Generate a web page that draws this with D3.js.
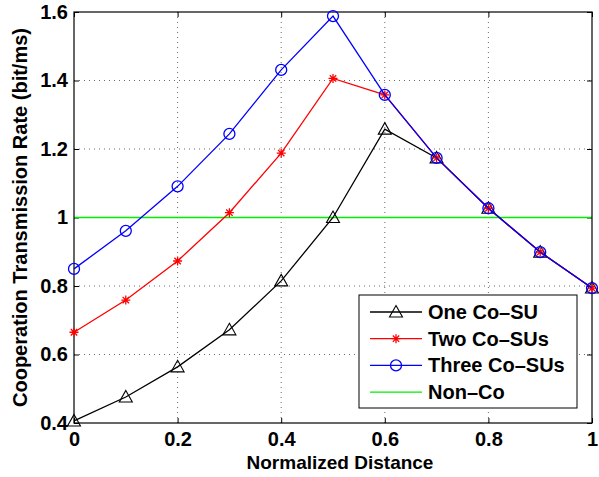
<!DOCTYPE html>
<html><head><meta charset="utf-8">
<script src="https://cdn.jsdelivr.net/npm/d3@7"></script>
<style>body{margin:0;background:#fff}svg{display:block}text{font-family:Arial,"Liberation Sans",Helvetica,sans-serif;font-weight:bold}</style>
</head><body>
<script>
const xVals = [0,0.1,0.2,0.3,0.4,0.5,0.6,0.7,0.8,0.9,1.0];
const oneCoSU = [0.406,0.476,0.564,0.672,0.815,1.0,1.258,1.174,1.027,0.899,0.794];
const twoCoSUs = [0.665,0.759,0.873,1.014,1.188,1.406,1.358,1.174,1.027,0.899,0.794];
const threeCoSUs = [0.850,0.961,1.091,1.244,1.431,1.588,1.358,1.174,1.027,0.899,0.794];
const nonCo = [1.0,1.0];
const nonCoX = [0,1];
const xTicks = [0,0.2,0.4,0.6,0.8,1];
const yTicks = [0.4,0.6,0.8,1,1.2,1.4,1.6];
const xTickLabels = ["0","0.2","0.4","0.6","0.8","1"];
const yTickLabels = ["0.4","0.6","0.8","1","1.2","1.4","1.6"];
const legendLabels = ["One Co\u2013SU","Two Co\u2013SUs","Three Co\u2013SUs","Non\u2013Co"];

const W=599,H=477, L=74,R=592,T=12,B=423;
const svg=d3.select("body").append("svg").attr("width",W).attr("height",H);
const x=d3.scaleLinear().domain([0,1]).range([L,R]);
const y=d3.scaleLinear().domain([0.4,1.6]).range([B,T]);

// grid
const g=svg.append("g");
xTicks.slice(1,-1).forEach(t=>g.append("line").attr("x1",x(t)).attr("x2",x(t)).attr("y1",T).attr("y2",B).attr("stroke","#444").attr("stroke-width",0.8).attr("stroke-dasharray","1,4"));
yTicks.slice(1,-1).forEach(t=>g.append("line").attr("x1",L).attr("x2",R).attr("y1",y(t)).attr("y2",y(t)).attr("stroke","#444").attr("stroke-width",0.8).attr("stroke-dasharray","1,4"));

// axes (ticks inside)
const ax=svg.append("g").attr("transform",`translate(0,${B})`).call(d3.axisBottom(x).tickValues(xTicks).tickFormat((d,i)=>xTickLabels[i]).tickSize(-5).tickPadding(9));
const ay=svg.append("g").attr("transform",`translate(${L},0)`).call(d3.axisLeft(y).tickValues(yTicks).tickFormat((d,i)=>yTickLabels[i]).tickSize(-5).tickPadding(6));
const axT=svg.append("g").attr("transform",`translate(0,${T})`).call(d3.axisTop(x).tickValues(xTicks).tickFormat("").tickSize(-5));
const ayR=svg.append("g").attr("transform",`translate(${R},0)`).call(d3.axisRight(y).tickValues(yTicks).tickFormat("").tickSize(-5));
[ax,ay,axT,ayR].forEach(a=>{a.select(".domain").remove();a.selectAll("line").attr("stroke","#000");a.selectAll("text").attr("font-size",20).attr("font-weight","bold").attr("fill","#000").attr("font-family","Arial,'Liberation Sans',sans-serif");});
ax.selectAll("text").attr("dy","0.71em");

// non-co line
svg.append("path").datum(nonCoX.map((v,i)=>[v,nonCo[i]])).attr("d",d3.line().x(d=>x(d[0])).y(d=>y(d[1])))
  .attr("stroke","#00ee00").attr("stroke-width",1.6).attr("fill","none");

svg.append("rect").attr("x",L).attr("y",T).attr("width",R-L).attr("height",B-T).attr("fill","none").attr("stroke","#000").attr("stroke-width",1.2);

const line=d3.line().x(d=>x(d[0])).y(d=>y(d[1]));
function triangle(sel,cx,cy){sel.append("path").attr("d",`M${cx},${cy-6.5}L${cx+6.5},${cy+5}L${cx-6.5},${cy+5}Z`).attr("fill","none").attr("stroke","#000").attr("stroke-width",1.1);}
function star(sel,cx,cy){const p=[`M${cx-4.5},${cy}L${cx+4.5},${cy}`,`M${cx},${cy-4.5}L${cx},${cy+4.5}`,`M${cx-3.2},${cy-3.2}L${cx+3.2},${cy+3.2}`,`M${cx-3.2},${cy+3.2}L${cx+3.2},${cy-3.2}`].join("");sel.append("path").attr("d",p).attr("stroke","#f00").attr("stroke-width",1.3);}
function circle(sel,cx,cy){sel.append("circle").attr("cx",cx).attr("cy",cy).attr("r",5.5).attr("fill","none").attr("stroke","#00f").attr("stroke-width",1.3);}

const series=[[oneCoSU,"#000",triangle],[twoCoSUs,"#f00",star],[threeCoSUs,"#00f",circle]];
series.forEach(([vals,col,mk])=>{
  svg.append("path").datum(xVals.map((v,i)=>[v,vals[i]])).attr("d",line).attr("stroke",col).attr("stroke-width",1.3).attr("fill","none");
  const mg=svg.append("g");
  xVals.forEach((v,i)=>mk(mg,x(v),y(vals[i])));
});

// labels
svg.append("text").attr("x",340).attr("y",469).attr("text-anchor","middle").attr("font-size",19).text("Normalized Distance");
svg.append("text").attr("transform",`translate(27,${(T+B)/2}) rotate(-90)`).attr("text-anchor","middle").attr("font-size",20).text("Cooperation Transmission Rate (bit/ms)");

// legend
const lg=svg.append("g");
lg.append("rect").attr("x",359).attr("y",295).attr("width",218).attr("height",113).attr("fill","#fff").attr("stroke","#000").attr("stroke-width",1);
const lcols=["#000","#f00","#00f","#00ee00"], lmk=[triangle,star,circle,null];
legendLabels.forEach((lab,i)=>{
  const yy=312+i*26.7;
  lg.append("line").attr("x1",370).attr("x2",422).attr("y1",yy).attr("y2",yy).attr("stroke",lcols[i]).attr("stroke-width",1.3);
  if(lmk[i]) lmk[i](lg,396,yy);
  lg.append("text").attr("x",428).attr("y",yy+7).attr("font-size",20).text(lab);
});
</script>
</body></html>
